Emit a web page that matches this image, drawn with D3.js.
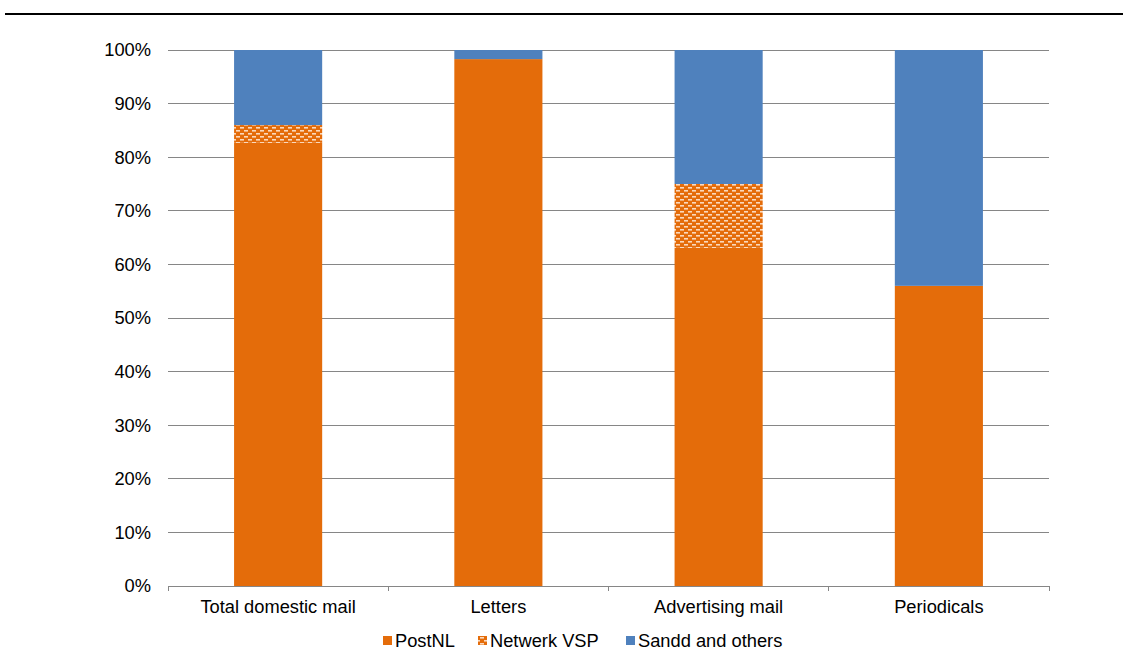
<!DOCTYPE html>
<html>
<head>
<meta charset="utf-8">
<script src="https://cdn.jsdelivr.net/npm/d3@7"></script>
<style>
  html, body { margin: 0; padding: 0; background: #fff; }
  svg { display: block; font-family: "Liberation Sans", Arial, sans-serif; }
</style>
</head>
<body>
<svg id="chart" width="1123" height="653"></svg>
<script>
// Market shares of domestic mail by operator
const categories = ["Total domestic mail", "Letters", "Advertising mail", "Periodicals"];
const seriesNames = ["PostNL", "Netwerk VSP", "Sandd and others"];
const postnl = [82.7, 98.3, 63.1, 56.0];
const netwerkVsp = [3.3, 0, 11.9, 0];
const sanddOthers = [14.0, 1.7, 25.0, 44.0];
const yTicks = [0, 10, 20, 30, 40, 50, 60, 70, 80, 90, 100];

const colors = { "PostNL": "#E46C0A", "Netwerk VSP": "url(#vspPattern)", "Sandd and others": "#4F81BD" };
const fontSize = 18.3;

const svg = d3.select("#chart");
const margin = { left: 168, right: 1049, top: 50, bottom: 586 };

// hatched fill for the Netwerk VSP segment
const defs = svg.append("defs");
const pat = defs.append("pattern")
  .attr("id", "vspPattern")
  .attr("patternUnits", "userSpaceOnUse")
  .attr("width", 8).attr("height", 6);
pat.append("rect").attr("width", 8).attr("height", 6).attr("fill", "#E46C0A");
pat.append("rect").attr("x", 0).attr("y", 1).attr("width", 4).attr("height", 1.6).attr("fill", "#FBD9BC");
pat.append("rect").attr("x", 4).attr("y", 4).attr("width", 4).attr("height", 1.6).attr("fill", "#FBD9BC");

// header rule
svg.append("line")
  .attr("x1", 5).attr("x2", 1123).attr("y1", 14).attr("y2", 14)
  .attr("stroke", "#000").attr("stroke-width", 2.2);

const x = d3.scaleBand().domain(categories).range([margin.left, margin.right]).paddingInner(0).paddingOuter(0);
const y = d3.scaleLinear().domain([0, 100]).range([margin.bottom, margin.top]);

// gridlines
svg.append("g").selectAll("line").data(yTicks.filter(d => d > 0)).join("line")
  .attr("x1", margin.left).attr("x2", margin.right)
  .attr("y1", d => y(d)).attr("y2", d => y(d))
  .attr("stroke", "#868686").attr("stroke-width", 1).attr("shape-rendering", "crispEdges");

// y axis labels
svg.append("g").selectAll("text").data(yTicks).join("text")
  .attr("x", 151).attr("y", d => y(d)).attr("dy", "0.35em")
  .attr("text-anchor", "end").attr("font-size", fontSize).attr("fill", "#000")
  .text(d => d + "%");

// stacked bars
const rows = categories.map((c, i) => ({
  category: c,
  "PostNL": postnl[i],
  "Netwerk VSP": netwerkVsp[i],
  "Sandd and others": sanddOthers[i]
}));
const stacked = d3.stack().keys(seriesNames)(rows);
const barW = x.bandwidth() * 0.4;

svg.append("g").selectAll("g").data(stacked).join("g")
  .attr("fill", d => colors[d.key])
  .selectAll("rect").data(d => d.filter(p => p[1] - p[0] > 0)).join("rect")
  .attr("x", d => x(d.data.category) + (x.bandwidth() - barW) / 2)
  .attr("width", barW)
  .attr("y", d => y(d[1]))
  .attr("height", d => y(d[0]) - y(d[1]));

// x axis
const xAxis = svg.append("g");
xAxis.append("line")
  .attr("x1", margin.left).attr("x2", margin.right)
  .attr("y1", margin.bottom).attr("y2", margin.bottom)
  .attr("stroke", "#868686").attr("shape-rendering", "crispEdges");
const boundaries = categories.map(c => x(c)).concat([margin.right]);
xAxis.selectAll("line.tick").data(boundaries).join("line")
  .attr("class", "tick")
  .attr("x1", d => d).attr("x2", d => d)
  .attr("y1", margin.bottom).attr("y2", margin.bottom + 5)
  .attr("stroke", "#868686").attr("shape-rendering", "crispEdges");
xAxis.selectAll("text").data(categories).join("text")
  .attr("x", d => x(d) + x.bandwidth() / 2)
  .attr("y", 607).attr("dy", "0.35em")
  .attr("text-anchor", "middle").attr("font-size", fontSize).attr("fill", "#000")
  .text(d => d);

// legend
const legendItems = [
  { name: "PostNL", sx: 383 },
  { name: "Netwerk VSP", sx: 478 },
  { name: "Sandd and others", sx: 626 }
];
const lg = svg.append("g");
legendItems.forEach(it => {
  lg.append("rect").attr("x", it.sx).attr("y", 636).attr("width", 9).attr("height", 9)
    .attr("fill", colors[it.name]);
  lg.append("text").attr("x", it.sx + 12).attr("y", 641).attr("dy", "0.35em")
    .attr("font-size", fontSize).attr("fill", "#000").text(it.name);
});
</script>
</body>
</html>
